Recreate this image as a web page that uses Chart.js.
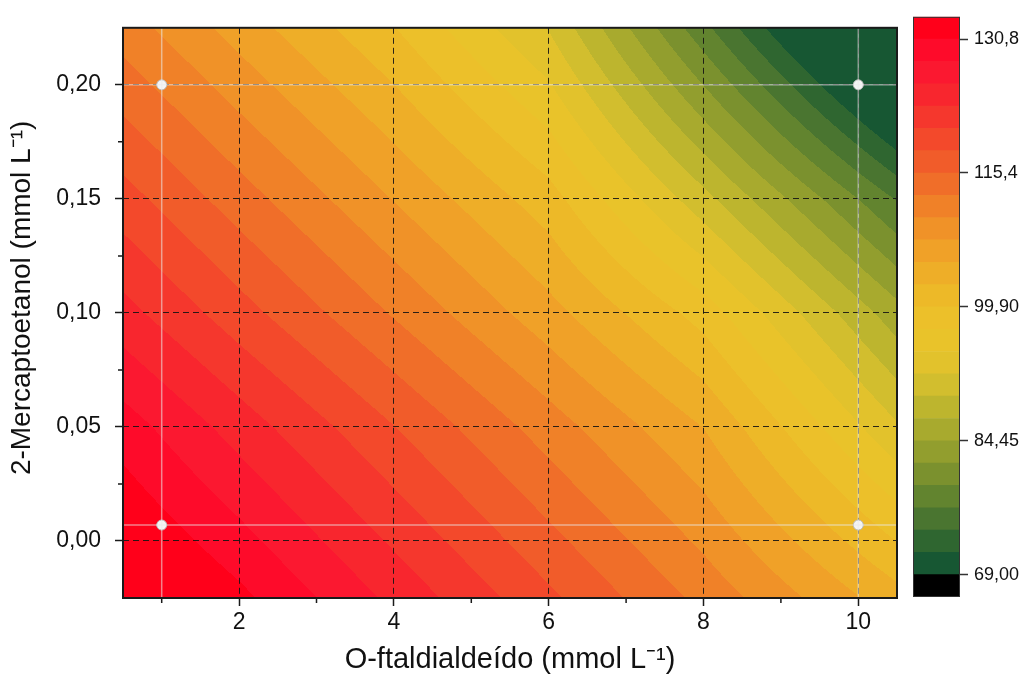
<!DOCTYPE html>
<html>
<head>
<meta charset="utf-8">
<script src="https://cdn.jsdelivr.net/npm/chart.js@4.4.1/dist/chart.umd.min.js"></script>
<style>
  html, body { margin: 0; padding: 0; background: #fff; }
  #wrap { position: relative; width: 1030px; height: 680px; }
  #contour { position: absolute; left: 0; top: 0; }
  #scale { position: absolute; left: 905px; top: 0; }
</style>
</head>
<body>
<div id="wrap">
  <canvas id="contour" width="905" height="680"></canvas>
  <canvas id="scale" width="125" height="680"></canvas>
</div>
<script>
// axes
const xRange = [0.5, 10.5];
const yRange = [-0.025, 0.225];
const xTicks = [2, 4, 6, 8, 10];
const xMinorTicks = [1, 3, 5, 7, 9];
const yTicks = [0, 0.05, 0.10, 0.15, 0.20];
const yMinorTicks = [0.025, 0.075, 0.125, 0.175];
const xTitle = 'O-ftaldialdeído (mmol L⁻¹)';
const yTitle = '2-Mercaptoetanol (mmol L⁻¹)';

// design points (OPA x 2-ME)
const designX = [1, 10];
const designY = [0.007, 0.2];

// response on a coarse grid (one row per gridY)
const gridX = [0.5, 2, 4, 6, 8, 10.5];
const gridY = [-0.025, 0.05, 0.10, 0.15, 0.225];
const gridZ = [
  [135.5, 131.5, 125.0, 118.5, 112.0, 103.5],
  [129.5, 124.5, 118.0, 111.5, 105.0, 92.5],
  [124.0, 119.0, 112.5, 106.0, 98.8, 85.5],
  [119.0, 114.0, 107.5, 101.0, 90.5, 76.5],
  [111.5, 106.5, 100.0, 92.0, 77.5, 59.0]
];

// contour levels and colour scale
const levels = [69.00, 71.575, 74.15, 76.725, 79.30, 81.875, 84.45, 87.025, 89.60,
  92.175, 94.75, 97.325, 99.90, 102.475, 105.05, 107.625, 110.20, 112.775,
  115.35, 117.925, 120.50, 123.075, 125.65, 128.225, 130.80];
const scaleTicks = [69.00, 84.45, 99.90, 115.4, 130.8];
const scaleRange = [66.425, 133.375];

const bandColors = [
  '#000000', '#175733', '#2f6630', '#4a7530', '#62842f', '#7b912e', '#929e2e',
  '#a8aa2e', '#bdb52e', '#d2be2e', '#e2c22c', '#e9c32a', '#ecc02a', '#edb928',
  '#eeae28', '#f0a128', '#f09228', '#f08128', '#f06e29', '#f15c2a', '#f3492b',
  '#f5372d', '#f8262e', '#fb1830', '#fe0b2a', '#ff001a'
];

const sans = "'Liberation Sans', Arial, sans-serif";
const tickFont = { family: sans, size: 23 };

function locate(arr, v) {
  let k = 0;
  while (k < arr.length - 2 && v > arr[k + 1]) k++;
  return [k, (v - arr[k]) / (arr[k + 1] - arr[k])];
}

function bandOf(z) {
  let b = 0;
  while (b < levels.length && z >= levels[b]) b++;
  return b;
}

function hexRgb(h) {
  return [parseInt(h.slice(1, 3), 16), parseInt(h.slice(3, 5), 16), parseInt(h.slice(5, 7), 16)];
}

const contourFill = {
  id: 'contourFill',
  beforeDraw(chart) {
    const { ctx, chartArea: a, scales: { x, y } } = chart;
    const left = Math.round(a.left), top = Math.round(a.top);
    const w = Math.round(a.right) - left, h = Math.round(a.bottom) - top;
    const img = ctx.createImageData(w, h);
    const rgb = bandColors.map(hexRgb);
    for (let j = 0; j < h; j++) {
      const [r, ty] = locate(gridY, y.getValueForPixel(top + j + 0.5));
      for (let i = 0; i < w; i++) {
        const [c, tx] = locate(gridX, x.getValueForPixel(left + i + 0.5));
        const z0 = gridZ[r][c] + (gridZ[r][c + 1] - gridZ[r][c]) * tx;
        const z1 = gridZ[r + 1][c] + (gridZ[r + 1][c + 1] - gridZ[r + 1][c]) * tx;
        let b = bandOf(z0 + (z1 - z0) * ty);
        if (b < 1) b = 1;
        const p = (j * w + i) * 4;
        img.data[p] = rgb[b][0];
        img.data[p + 1] = rgb[b][1];
        img.data[p + 2] = rgb[b][2];
        img.data[p + 3] = 255;
      }
    }
    ctx.putImageData(img, left, top);
  }
};

// frame, minor ticks and the rotated y title
const frameAndMinor = {
  id: 'frameAndMinor',
  afterDraw(chart) {
    const { ctx, chartArea: a, scales: { x, y } } = chart;
    ctx.save();
    ctx.strokeStyle = '#1a1a1a';
    ctx.lineWidth = 1.5;
    ctx.beginPath();
    xMinorTicks.forEach(v => {
      const px = x.getPixelForValue(v);
      ctx.moveTo(px, a.bottom);
      ctx.lineTo(px, a.bottom + 5);
    });
    yMinorTicks.forEach(v => {
      const py = y.getPixelForValue(v);
      ctx.moveTo(a.left, py);
      ctx.lineTo(a.left - 5, py);
    });
    ctx.stroke();
    ctx.lineWidth = 2;
    ctx.strokeRect(a.left, a.top, a.right - a.left, a.bottom - a.top);

    ctx.translate(22, (a.top + a.bottom) / 2 - 15);
    ctx.rotate(-Math.PI / 2);
    ctx.font = '28px ' + sans;
    ctx.fillStyle = '#111';
    ctx.textAlign = 'center';
    ctx.textBaseline = 'middle';
    ctx.fillText(yTitle, 0, 0);
    ctx.restore();
  }
};

const refLine = 'rgba(235,235,235,0.55)';
const refLines = [
  [{ x: designX[0], y: yRange[0] }, { x: designX[0], y: yRange[1] }],
  [{ x: designX[1], y: yRange[0] }, { x: designX[1], y: yRange[1] }],
  [{ x: xRange[0], y: designY[0] }, { x: xRange[1], y: designY[0] }],
  [{ x: xRange[0], y: designY[1] }, { x: xRange[1], y: designY[1] }]
].map(d => ({
  type: 'line', data: d, borderColor: refLine, borderWidth: 1.5,
  pointRadius: 0, fill: false
}));

const points = [];
designY.forEach(yv => designX.forEach(xv => points.push({ x: xv, y: yv })));

const gridStyle = { color: 'rgba(20,20,20,0.9)', lineWidth: 1, tickLength: 8, tickColor: '#1a1a1a', tickWidth: 1.5 };

new Chart(document.getElementById('contour'), {
  type: 'scatter',
  data: {
    datasets: refLines.concat([{
      data: points,
      pointRadius: 5,
      pointBackgroundColor: '#f4f4f4',
      pointBorderColor: '#b8b8b8',
      pointBorderWidth: 1
    }])
  },
  options: {
    responsive: false,
    animation: false,
    layout: { padding: { top: 15, right: 8, left: 0, bottom: 0 } },
    plugins: { legend: { display: false }, tooltip: { enabled: false } },
    scales: {
      x: {
        type: 'linear', min: xRange[0], max: xRange[1],
        afterBuildTicks: ax => { ax.ticks = xTicks.map(v => ({ value: v })); },
        afterFit: ax => { ax.height = 82; },
        ticks: { font: tickFont, color: '#111', padding: 3, maxRotation: 0, callback: v => String(v) },
        grid: gridStyle,
        border: { display: false, dash: [6, 4] },
        title: { display: true, text: xTitle, font: { family: sans, size: 29 }, color: '#111', padding: { top: 0, bottom: 3 } }
      },
      y: {
        type: 'linear', min: yRange[0], max: yRange[1],
        afterBuildTicks: ax => { ax.ticks = yTicks.map(v => ({ value: v })); },
        afterFit: ax => { ax.width = 123; },
        ticks: { font: tickFont, color: '#111', padding: 14, callback: v => v.toFixed(2).replace('.', ',') },
        grid: gridStyle,
        border: { display: false, dash: [6, 4] }
      }
    }
  },
  plugins: [contourFill, frameAndMinor]
});

// colour scale
const bandEdges = [scaleRange[0]].concat(levels, [scaleRange[1]]);
const barFrame = {
  id: 'barFrame',
  afterDraw(chart) {
    const { ctx, chartArea: a } = chart;
    ctx.save();
    ctx.strokeStyle = '#333';
    ctx.lineWidth = 1;
    ctx.strokeRect(a.left + 0.5, a.top + 0.5, a.right - a.left - 1, a.bottom - a.top - 1);
    ctx.restore();
  }
};

new Chart(document.getElementById('scale'), {
  type: 'bar',
  data: {
    labels: ['z'],
    datasets: bandColors.map((col, i) => ({
      data: [[bandEdges[i], bandEdges[i + 1]]],
      backgroundColor: col,
      borderWidth: 0,
      grouped: false,
      barPercentage: 1,
      categoryPercentage: 1
    }))
  },
  options: {
    responsive: false,
    animation: false,
    layout: { padding: { top: 15, left: 8, right: 0, bottom: 83 } },
    plugins: { legend: { display: false }, tooltip: { enabled: false } },
    scales: {
      x: { display: false },
      y: {
        position: 'right', min: scaleRange[0], max: scaleRange[1],
        afterBuildTicks: ax => { ax.ticks = scaleTicks.map(v => ({ value: v })); },
        afterFit: ax => { ax.width = 70; },
        ticks: { font: { family: sans, size: 18 }, color: '#111', padding: 6,
          callback: v => v.toPrecision(4).replace('.', ',') },
        grid: { drawOnChartArea: false, tickLength: 8, tickColor: '#333', tickWidth: 1.5 },
        border: { display: false }
      }
    }
  },
  plugins: [barFrame]
});
</script>
</body>
</html>
